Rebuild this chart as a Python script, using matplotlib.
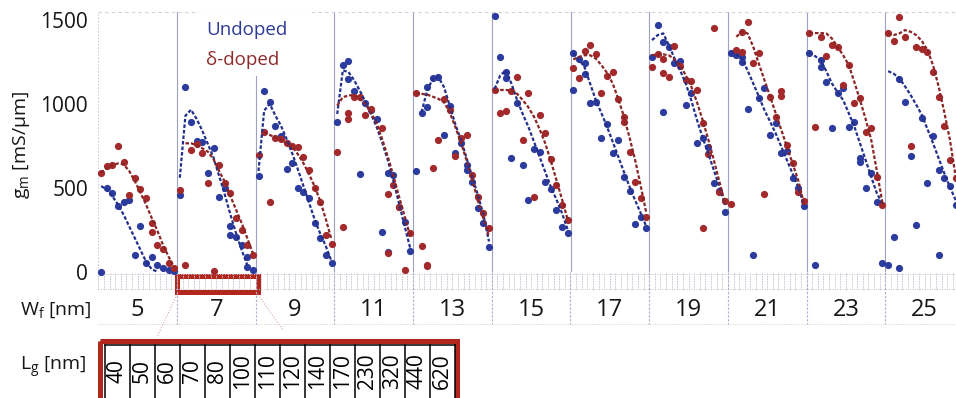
import numpy as np
import matplotlib
matplotlib.use("Agg")
import matplotlib.pyplot as plt
from matplotlib.patches import Rectangle
from matplotlib.transforms import Affine2D

plt.rcParams['font.family'] = ['Open Sans', 'DejaVu Sans']
plt.rcParams['mathtext.fontset'] = 'custom'
plt.rcParams['mathtext.rm'] = 'Open Sans'
plt.rcParams['mathtext.it'] = 'Open Sans:italic'
plt.rcParams['mathtext.default'] = 'regular'

nan = np.nan

# ---------------------------------------------------------------- data
fin_widths = [5, 7, 9, 11, 13, 15, 17, 19, 21, 23, 25]                 # W_f [nm]
gate_lengths = [40, 50, 60, 70, 80, 100, 110, 120, 140, 170, 230, 320, 440, 620]  # L_g [nm]

# transconductance g_m [mS/um], one row per fin width, one value per gate length
undoped_gm = [
    [0, 497, 471, 393, 417, 427, 99, 272, 50, 89, 40, 20, 12, 6],
    [457, 1099, 894, 781, 775, 586, 735, 447, 497, 272, 205, 159, 89, 10],
    [570, 1079, 1013, 868, 808, 610, 646, 497, 477, 440, 288, 199, 99, 50],
    [894, 1232, 1255, 1079, 580, 1003, 963, 908, 235, 590, 576, 387, 298, 125],
    [600, 948, 1099, 1152, 1162, 814, 987, 705, 765, 636, 536, 377, 292, 149],
    [1524, 1277, 1192, 675, 1003, 636, 427, 731, 715, 536, 491, 367, 268, 228],
    [1083, 1265, 1245, 1003, 1013, 799, 880, 705, 785, 566, 481, 282, 328, 258],
    [1277, 1470, 1371, 1341, 1245, 1258, 993, 1063, 765, 795, 745, 526, 481, 358],
    [1305, 1291, 1277, 967, 99, 1033, 1093, 814, 888, 705, 720, 556, 500, 391],
    [1305, 40, 1261, 1132, 854, 1063, 1093, 864, 894, 675, 497, 586, 417, 50],
    [40, 209, 1146, 1013, 689, 276, 914, 530, 808, 606, 556, 510, 397, nan],
]
doped_gm = [
    [590, 632, 636, 749, 652, 457, 556, 493, 441, 292, 159, 133, 50, 24],
    [487, 40, 725, 761, 705, 530, 4, 636, 526, 471, 318, 248, 160, 99],
    [695, 834, 417, 795, 789, 765, 749, 745, 685, 606, 497, 417, 219, 165],
    [711, 268, 944, 1043, 1043, 934, 967, nan, 854, 461, 516, 387, 10, 228],
    [1067, 153, 40, 620, 785, 1027, 963, 689, 795, 814, 576, 447, 348, 258],
    [1083, 948, 959, 1079, 1158, 785, 1063, 447, 934, 824, 669, 516, 397, 308],
    [1212, 1152, 1317, 1351, 1295, 1063, 1166, 1192, 1027, 924, 715, 536, 441, 328],
    [1218, 1295, 1265, 1158, 1345, 1225, 1142, 1138, 1083, 884, 699, 1450, 477, 420],
    [403, 1321, 1430, 1490, 1245, 1301, 461, 1043, 924, 1079, 755, 646, 477, 420],
    [1420, 860, 1400, 1285, 1351, 1341, 1112, 1231, 1003, 1033, 834, 858, 566, 397],
    [1424, 1377, 1516, 1400, 749, 1341, 1325, 1311, 1192, 1043, 868, 665, 556, nan],
]

# second devices measured at the same (W_f row, L_g index)
undoped_repeat = [(1, 9, 218), (1, 12, 30), (3, 2, 1146), (3, 9, 115), (4, 2, 983),
                  (4, 9, 606), (5, 2, 1152), (6, 0, 1301), (6, 2, 1178), (7, 2, 954),
                  (8, 2, 1251), (9, 2, 1221), (9, 9, 655), (10, 2, 20), (10, 9, 99)]
doped_repeat = [(0, 9, 238), (3, 2, 910), (3, 9, 109), (4, 2, 34), (6, 9, 894),
                (7, 2, 1186), (7, 9, 262), (8, 2, 1311), (8, 9, 1045)]

# model fits (dashed)
undoped_fit = [
    [510, 490, 450, 400, 340, 270, 200, 130, 60, 15, 0, nan, nan, nan],
    [560, 930, 965, 910, 840, 760, 680, 570, 460, 340, 230, 130, 40, nan],
    [600, 960, 1000, 930, 870, 790, 705, 610, 510, 410, 310, 225, 150, 60],
    [940, 1200, 1190, 1142, 1080, 1013, 940, 864, 770, 665, 540, 407, 270, 139],
    [nan, 950, 1080, 1150, 1160, 1100, 990, 880, 785, 680, 566, 460, 340, 180],
    [1090, 1170, 1200, 1120, 1023, 940, 864, 775, 685, 595, 506, 430, 348, 250],
    [1300, 1265, 1219, 1120, 1023, 945, 864, 775, 685, 595, 506, 425, 348, 268],
    [1380, 1410, 1420, 1350, 1271, 1200, 1122, 1020, 904, 800, 705, 605, 507, 400],
    [1311, 1295, 1271, 1200, 1122, 1045, 963, 895, 824, 745, 665, 585, 507, 395],
    [1305, 1285, 1261, 1195, 1122, 1070, 1023, 945, 864, 765, 665, 565, 467, 407],
    [1195, 1180, 1152, 1105, 1053, 995, 934, 850, 765, 675, 586, 505, 427, nan],
]
doped_fit = [
    [590, 615, 635, 645, 640, 600, 540, 470, 400, 320, 245, 160, 90, 25],
    [nan, 765, 765, 755, 735, 715, 670, 600, 536, 450, 370, 290, 200, 109],
    [nan, 830, 815, 800, 785, 765, 745, 700, 646, 580, 507, 420, 310, 190],
    [990, 1040, 1050, 1053, 1030, 1000, 950, 884, 790, 685, 570, 447, 330, 209],
    [1060, 1060, 1055, 1043, 1030, 1010, 950, 864, 770, 665, 550, 427, 320, 209],
    [1080, 1083, 1083, 1080, 1060, 1023, 980, 924, 850, 765, 660, 546, 430, 310],
    [1265, 1280, 1290, 1290, 1270, 1231, 1185, 1122, 1030, 924, 800, 665, 510, 348],
    [1290, 1295, 1295, 1290, 1265, 1231, 1170, 1102, 1010, 904, 790, 665, 535, 407],
    [nan, 1400, 1430, 1420, 1341, 1240, 1142, 1045, 944, 845, 745, 645, 546, 410],
    [1420, 1422, 1422, 1420, 1390, 1341, 1290, 1231, 1130, 1023, 910, 785, 600, 407],
    [1420, 1410, 1420, 1440, 1430, 1410, 1375, 1321, 1230, 1102, 950, 785, 570, nan],
]

series_names = ['Undoped', 'δ-doped']

# ---------------------------------------------------------------- style
BLUE, RED = '#2c3c9e', '#a3292b'
BLUE_FIT, RED_FIT = '#22308c', '#8a2424'
BORDER_RED = '#b3261e'
DIV = '#9ea3c2'
INK = '#161616'

W, H = 956, 398
fig = plt.figure(figsize=(W / 100, H / 100), dpi=100)
px = Affine2D().scale(1 / W, -1 / H).translate(0, 1) + fig.transFigure

X0, X1 = 98.3, 956.0          # plot area, pixels
Y_TOP, Y_ZERO = 11.6, 271.7
n_lg = len(gate_lengths)
UNIT = 78.7 / n_lg            # pixels per gate-length slot

# overlay in pixel coordinates for the strip, labels and the L_g table
ov = fig.add_axes([0, 0, 1, 1])
ov.set_xlim(0, W)
ov.set_ylim(H, 0)
ov.axis('off')
ov.set_zorder(1)

ax = fig.add_axes([X0 / W, 1 - Y_ZERO / H, (X1 - X0) / W, (Y_ZERO - Y_TOP) / H])
ax.set_zorder(2)
ax.set_facecolor('none')
ax.set_xlim(0, (X1 - X0) / UNIT)
ax.set_ylim(0, 1550)
for s in ax.spines.values():
    s.set_visible(False)
ax.set_xticks([])
ax.set_yticks([0, 500, 1000, 1500])
ax.tick_params(axis='y', length=0, pad=7.5, labelsize=15, labelcolor=INK)
ax.set_ylabel('$g_m$ [mS/μm]', fontsize=14, color=INK)
ax.yaxis.set_label_coords(-0.077, 0.487)

# panel dividers and frame hints
ax.axvline(0, color='#c9cce0', lw=0.8, ls=(0, (1.5, 1.5)), zorder=1)
for p in range(1, len(fin_widths)):
    ax.axvline(p * n_lg, color=DIV, lw=0.8, zorder=1)
ax.axhline(1550, color='#d2d2d2', lw=0.8, ls=(0, (3, 3)), zorder=1, clip_on=False)

# data
slots = np.arange(n_lg) + 0.5
for p in range(len(fin_widths)):
    x = p * n_lg + slots
    ax.scatter(x, undoped_gm[p], s=27, color=BLUE, lw=0, zorder=3, clip_on=False)
    ax.scatter(x, doped_gm[p], s=27, color=RED, lw=0, zorder=3, clip_on=False)
    ax.plot(x, undoped_fit[p], color=BLUE_FIT, lw=1.6, ls=(0, (1.6, 0.9)), zorder=4)
    ax.plot(x, doped_fit[p], color=RED_FIT, lw=1.6, ls=(0, (1.6, 0.9)), zorder=4)

for rep, col in ((undoped_repeat, BLUE), (doped_repeat, RED)):
    rx = [r[0] * n_lg + r[1] + 0.5 for r in rep]
    ry = [r[2] for r in rep]
    ax.scatter(rx, ry, s=27, color=col, lw=0, zorder=3, clip_on=False)

# series labels on a white patch
ax.add_patch(Rectangle((199, 12), 112, 64, transform=px, facecolor='white',
                       edgecolor='none', zorder=5, clip_on=False))
ax.text(206, 30, series_names[0], transform=px, color='#2d3a96', fontsize=13.5,
        ha='left', va='center', zorder=6)
ax.text(206, 60, series_names[1], transform=px, color='#8f2a2a', fontsize=13.5,
        ha='left', va='center', zorder=6)

# ---------------------------------------------------------------- strip under the axis
def xpx(slot):
    return X0 + slot * UNIT

n_slots = len(fin_widths) * n_lg
ov.plot([X0, W], [273.5, 273.5], color='#c4c4c4', lw=0.7, ls=(0, (1, 1.5)))
ov.plot([X0, W], [288.5, 288.5], color='#c4c4c4', lw=0.7, ls=(0, (1, 1.5)))
ov.plot([X0, W], [324, 324], color='#cfcfcf', lw=0.7, ls=(0, (1, 1.5)))
for k in range(n_slots + 1):
    xp = xpx(k)
    if xp <= W:
        ov.plot([xp, xp], [272.5, 289.5], color='#c3c5d2', lw=0.6, ls=(0, (2, 1)))
for p in range(1, len(fin_widths)):
    xp = xpx(p * n_lg)
    ov.plot([xp, xp], [271.7, 324], color='#aab0cc', lw=0.8, ls=(0, (2, 1.5)))

for p, w in enumerate(fin_widths):
    ov.text(xpx(p * n_lg + n_lg / 2), 310, str(w), ha='center', va='center',
            fontsize=17, color=INK)
ov.text(91, 310, 'W$_f$ [nm]', ha='right', va='center', fontsize=14, color=INK)

# highlighted W_f = 7 nm block and guide lines to the L_g table
left7, right7 = xpx(n_lg), xpx(2 * n_lg)
ov.add_patch(Rectangle((left7 + 0.5, 275.5), right7 - left7 + 1.5, 16.3,
                       fill=False, edgecolor=BORDER_RED, lw=3.6))
ov.plot([left7, 157], [294.5, 337], color='#dca4a4', lw=0.8, ls=(0, (1, 1.5)))
ov.plot([right7 + 2, 283], [294.5, 330], color='#dca4a4', lw=0.8, ls=(0, (1, 1.5)))

# ---------------------------------------------------------------- L_g table
T_LEFT, CELL, T_TOP = 105.0, 25.0, 344.5
ov.add_patch(Rectangle((99.8, 340.8), 357.7, 80, fill=False,
                       edgecolor=BORDER_RED, lw=3.6))
ov.plot([T_LEFT, T_LEFT + CELL * n_lg], [T_TOP, T_TOP], color='black', lw=1.1)
for k in range(n_lg + 1):
    xc = T_LEFT + CELL * k
    ov.plot([xc, xc], [T_TOP, H + 5], color='black', lw=1.1)
for k, lg in enumerate(gate_lengths):
    ov.text(T_LEFT + CELL * (k + 0.5), 371, str(lg), rotation=90, ha='center',
            va='center', fontsize=15, color='black')
ov.text(86, 367, 'L$_g$ [nm]', ha='right', va='center', fontsize=14, color=INK)

fig.savefig('out.png', dpi=100)
